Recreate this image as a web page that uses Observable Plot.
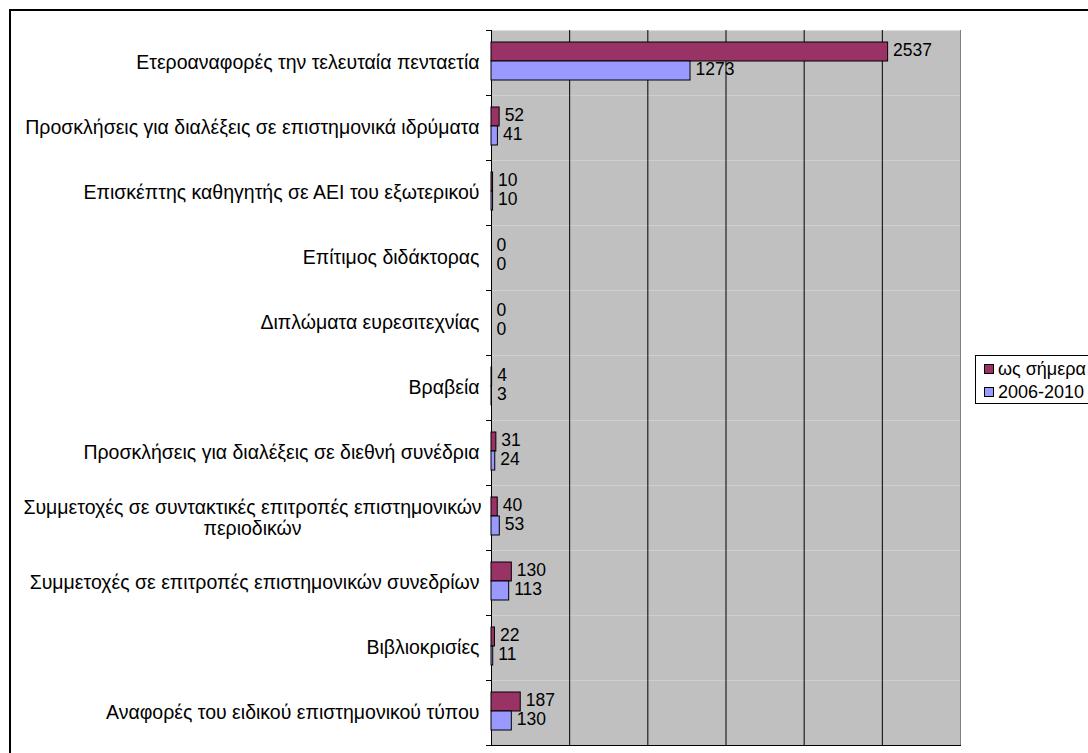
<!DOCTYPE html>
<html>
<head>
<meta charset="utf-8">
<script src="https://cdn.jsdelivr.net/npm/d3@7"></script>
<script src="https://cdn.jsdelivr.net/npm/@observablehq/plot@0.6"></script>
<style>
  html, body { margin: 0; padding: 0; background: #fff; }
  #wrap { position: relative; width: 1088px; height: 753px; overflow: hidden; background: #fff;
          font-family: "Liberation Sans", Arial, sans-serif; }
  #border { position: absolute; left: 9px; top: 9px; width: 1200px; height: 900px;
            border: 2px solid #000; box-sizing: border-box; z-index: 0; }
  #chart { position: absolute; left: 0; top: 0; z-index: 1; }
  #legend { position: absolute; left: 975px; top: 355px; width: 150px; height: 49px;
            border: 1px solid #000; background: #fff; z-index: 2; box-sizing: border-box; }
  .item { position: absolute; left: 8px; display: flex; align-items: center; font-size: 18px; line-height: 22px; color: #000; white-space: nowrap; }
  .sw { width: 8px; height: 8px; border: 1px solid #000; margin-right: 4px; }
</style>
</head>
<body>
<div id="wrap">
  <div id="border"></div>
  <div id="chart"></div>
  <div id="legend"></div>
</div>
<script>
// ---- data ----
const categories = [
  "Ετεροαναφορές την τελευταία πενταετία",
  "Προσκλήσεις για διαλέξεις σε επιστημονικά ιδρύματα",
  "Επισκέπτης καθηγητής σε ΑΕΙ του εξωτερικού",
  "Επίτιμος διδάκτορας",
  "Διπλώματα ευρεσιτεχνίας",
  "Βραβεία",
  "Προσκλήσεις για διαλέξεις σε διεθνή συνέδρια",
  "Συμμετοχές σε συντακτικές επιτροπές επιστημονικών\nπεριοδικών",
  "Συμμετοχές σε επιτροπές επιστημονικών συνεδρίων",
  "Βιβλιοκρισίες",
  "Αναφορές του ειδικού επιστημονικού τύπου"
];
const seriesNames = ["ως σήμερα", "2006-2010"];
const valuesToDate = [2537, 52, 10, 0, 0, 4, 31, 40, 130, 22, 187];
const values2006_2010 = [1273, 41, 10, 0, 0, 3, 24, 53, 113, 11, 130];
const gridValues = [500, 1000, 1500, 2000, 2500];
const xMax = 3000;
const colors = ["#993366", "#9999FF"];

// ---- table ----
const rows = [];
categories.forEach((c, i) => {
  rows.push({category: c, series: seriesNames[0], value: valuesToDate[i]});
  rows.push({category: c, series: seriesNames[1], value: values2006_2010[i]});
});
const singleLine = categories.filter(c => !c.includes("\n"));
const multiLine = categories.filter(c => c.includes("\n"));

const W = 1088, H = 753;
const mL = 491, mR = 128, mT = 26, mB = 5;
const plotW = W - mL - mR;
const catFont = 19.5, valFont = 17.5;

const chart = Plot.plot({
  width: W,
  height: H,
  marginLeft: mL,
  marginRight: mR,
  marginTop: mT,
  marginBottom: mB,
  style: {fontFamily: '"Liberation Sans", Arial, sans-serif', fontSize: "15px", background: "transparent", color: "#000"},
  x: {domain: [0, xMax], axis: null},
  y: {domain: seriesNames, paddingInner: 0, paddingOuter: 0.71, align: 0.45, axis: null},
  fy: {domain: categories, padding: 0, axis: null},
  color: {domain: seriesNames, range: colors},
  marks: [
    Plot.frame({fill: "#C0C0C0", stroke: null}),
    Plot.ruleX(gridValues, {stroke: "#000", strokeWidth: 1}),
    Plot.ruleX([xMax], {stroke: "#808080", strokeWidth: 1}),
    Plot.ruleX([0], {stroke: "#000", strokeWidth: 1}),
    Plot.frame({anchor: "top", stroke: "#000", insetLeft: -5, insetRight: plotW}),
    Plot.frame({anchor: "bottom", facetAnchor: "bottom", stroke: "#000", insetLeft: -5}),
    Plot.barX(rows, {x: "value", y: "series", fy: "category", fill: "series", stroke: "#000", strokeWidth: 1}),
    Plot.text(rows, {x: "value", y: "series", fy: "category", text: d => String(d.value),
      textAnchor: "start", dx: 5, dy: -2, fill: "#000", fontSize: valFont}),
    Plot.text(singleLine, {x: null, y: null, fy: d => d, text: d => d, frameAnchor: "left",
      textAnchor: "end", dx: -12, fill: "#000", fontSize: catFont}),
    Plot.text(multiLine, {x: null, y: null, fy: d => d, text: d => d, frameAnchor: "left",
      textAnchor: "middle", dx: -239, lineHeight: 1.08, fill: "#000", fontSize: catFont})
  ]
});
document.getElementById("chart").appendChild(chart);

// ---- legend ----
const legend = document.getElementById("legend");
seriesNames.forEach((s, i) => {
  const it = document.createElement("div");
  it.className = "item";
  it.style.top = (2 + i * 23) + "px";
  const sw = document.createElement("div");
  sw.className = "sw";
  sw.style.background = colors[i];
  const t = document.createElement("span");
  t.textContent = s;
  it.appendChild(sw);
  it.appendChild(t);
  legend.appendChild(it);
});
</script>
</body>
</html>
